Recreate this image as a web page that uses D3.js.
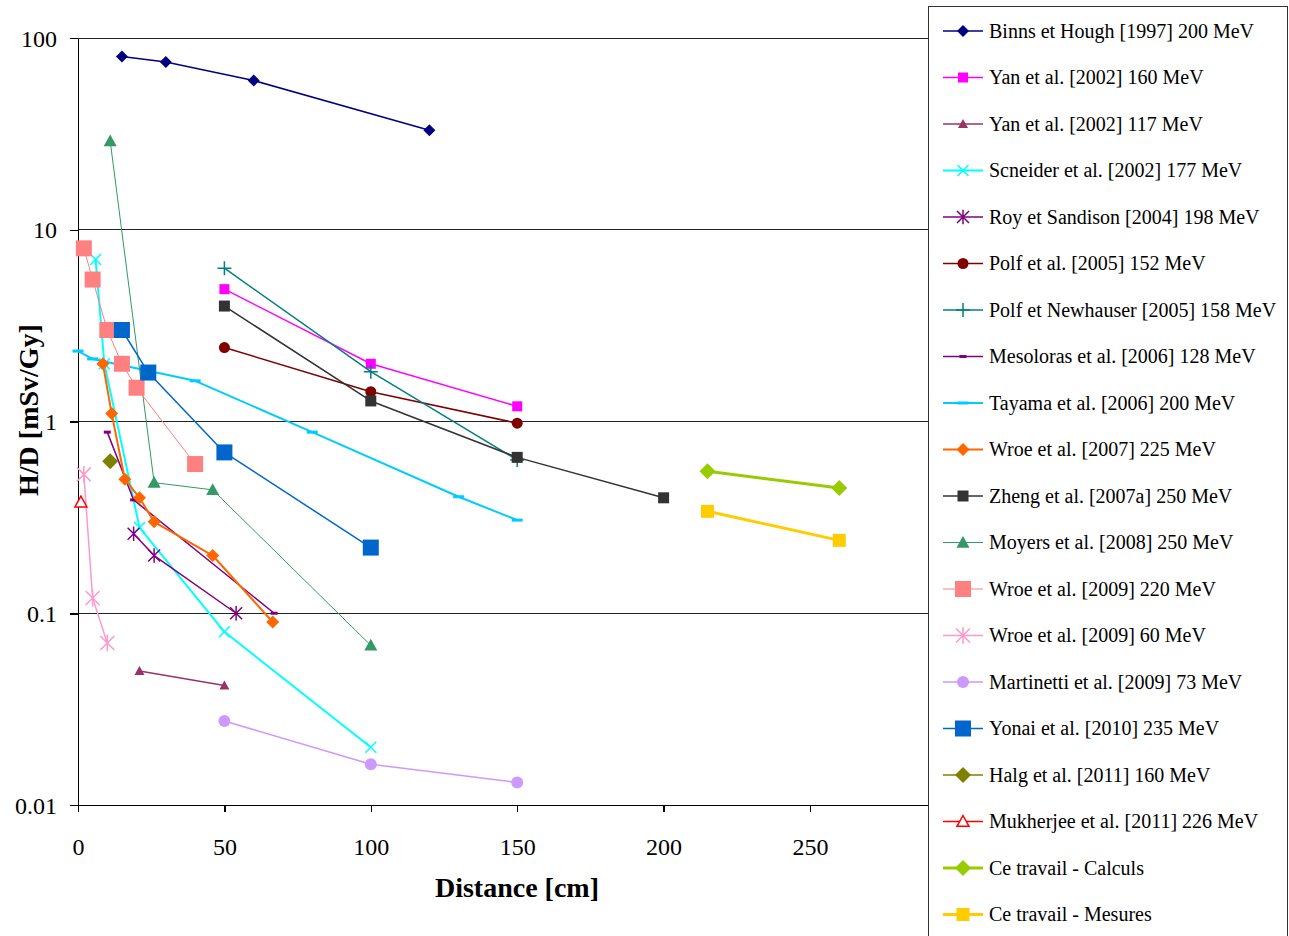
<!DOCTYPE html>
<html><head><meta charset="utf-8">
<script src="https://cdn.jsdelivr.net/npm/d3@7"></script>
<style>
body{margin:0;background:#fff}
svg{display:block}
text{font-family:"Liberation Serif","Times New Roman",serif;fill:#000}
</style>
</head><body>
<svg id="chart" width="1289" height="936"></svg>
<script>
// ---------- DATA ----------
const seriesNames = [
  "Binns et Hough [1997] 200 MeV",
  "Yan et al. [2002] 160 MeV",
  "Yan et al. [2002] 117 MeV",
  "Scneider et al. [2002] 177 MeV",
  "Roy et Sandison [2004] 198 MeV",
  "Polf et al. [2005] 152 MeV",
  "Polf et Newhauser [2005] 158 MeV",
  "Mesoloras et al. [2006] 128 MeV",
  "Tayama et al. [2006] 200 MeV",
  "Wroe et al. [2007] 225 MeV",
  "Zheng et al. [2007a] 250 MeV",
  "Moyers et al. [2008] 250 MeV",
  "Wroe et al. [2009] 220 MeV",
  "Wroe et al. [2009] 60 MeV",
  "Martinetti et al. [2009] 73 MeV",
  "Yonai et al. [2010] 235 MeV",
  "Halg et al. [2011] 160 MeV",
  "Mukherjee et al. [2011] 226 MeV",
  "Ce travail - Calculs",
  "Ce travail - Mesures"
];
// [distance cm, H/D mSv/Gy]
const binnsHough1997 = [[15,80],[30,75],[60,60],[120,33]];
const yan2002_160 = [[50,4.9],[100,2.0],[150,1.2]];
const yan2002_117 = [[21,0.05],[50,0.042]];
const scneider2002 = [[6,7.0],[9,2.0],[21,0.28],[50,0.08],[100,0.02]];
const roySandison2004 = [[19,0.26],[26,0.2],[54,0.1]];
const polf2005 = [[50,2.43],[100,1.43],[150,0.98]];
const polfNewhauser2005 = [[50,6.3],[100,1.82],[150,0.63]];
const mesoloras2006 = [[10,0.88],[19,0.39],[67,0.1]];
const tayama2006 = [[0,2.33],[5,2.12],[40,1.63],[80,0.88],[130,0.405],[150,0.306]];
const wroe2007 = [[8.5,2.0],[11.5,1.1],[16,0.5],[21,0.4],[26,0.3],[46,0.2],[66.5,0.09]];
const zheng2007a = [[50,4.0],[100,1.28],[150,0.65],[200,0.4]];
const moyers2008 = [[11,29],[26,0.48],[46,0.44],[100,0.068]];
const wroe2009_220 = [[2,8.0],[5,5.5],[10,3.0],[15,2.0],[20,1.5],[40,0.6]];
const wroe2009_60 = [[2,0.53],[5,0.12],[10,0.07]];
const martinetti2009 = [[50,0.0274],[100,0.0163],[150,0.0131]];
const yonai2010 = [[15,3.0],[24,1.8],[50,0.69],[100,0.22]];
const halg2011 = [[11,0.62]];
const mukherjee2011 = [[1,0.38]];
const ceTravailCalculs = [[215,0.55],[260,0.45]];
const ceTravailMesures = [[215,0.34],[260,0.24]];

const xTickValues = [0,50,100,150,200,250];
const yTickValues = [0.01,0.1,1,10,100];
const yTickLabels = ["0.01","0.1","1","10","100"];
const xAxisTitle = "Distance [cm]";
const yAxisTitle = "H/D [mSv/Gy]";

const seriesValues = [binnsHough1997, yan2002_160, yan2002_117, scneider2002, roySandison2004,
  polf2005, polfNewhauser2005, mesoloras2006, tayama2006, wroe2007, zheng2007a, moyers2008,
  wroe2009_220, wroe2009_60, martinetti2009, yonai2010, halg2011, mukherjee2011,
  ceTravailCalculs, ceTravailMesures];

// ---------- STYLES ----------
const styles = [
  {c:"#000080", w:1.5, m:"diamond", s:6},
  {c:"#FF00FF", w:1.5, m:"square", s:10},
  {c:"#993366", w:1.5, m:"triangle", s:10},
  {c:"#00FFFF", w:2,   m:"x", s:5.5},
  {c:"#800080", w:1.5, m:"asterisk", s:6},
  {c:"#800000", w:1.5, m:"circle", s:5.5},
  {c:"#008080", w:1.5, m:"plus", s:7},
  {c:"#800080", w:1.5, m:"dash", s:7},
  {c:"#00CCFF", w:2,   m:"dash", s:11},
  {c:"#FF6600", w:2,   m:"diamond", s:6.5},
  {c:"#333333", w:1.5, m:"square", s:11},
  {c:"#339966", w:1,   m:"triangle", s:13},
  {c:"#FF8080", w:1,   m:"square", s:16},
  {c:"#FF99CC", w:1.5, m:"asterisk", s:7},
  {c:"#CC99FF", w:1.5, m:"circle", s:6},
  {c:"#0066CC", w:1.5, m:"square", s:16},
  {c:"#808000", w:1.5, m:"diamond", s:8},
  {c:"#FF0000", w:1.5, m:"opentriangle", s:12},
  {c:"#99CC00", w:3,   m:"diamond", s:8},
  {c:"#FFCC00", w:3,   m:"square", s:13}
];

// ---------- LAYOUT ----------
const svg = d3.select("#chart");
const x = d3.scaleLinear().domain([0,300]).range([78, 78 + 300*2.928]);
const y = d3.scaleLog().domain([0.01,100]).range([805,38]);

// gridlines
svg.append("g").selectAll("line").data(yTickValues.slice(1)).join("line")
  .attr("x1", x(0)).attr("x2", x(300)).attr("y1", d=>y(d)).attr("y2", d=>y(d))
  .attr("stroke", "#222").attr("stroke-width", 1).attr("shape-rendering","crispEdges");

// axes
const yAxis = svg.append("g").attr("transform", `translate(${x(0)},0)`)
  .call(d3.axisLeft(y).tickValues(yTickValues).tickSize(8).tickSizeOuter(0)
    .tickFormat((d,i)=>yTickLabels[i]));
yAxis.selectAll("text").attr("x", -21).attr("dy","0.34em").attr("font-size", 24)
  .attr("font-family","Liberation Serif");
const xAxis = svg.append("g").attr("transform", `translate(0,${y(0.01)})`)
  .call(d3.axisBottom(x).tickValues(xTickValues).tickSize(7).tickSizeOuter(0));
xAxis.selectAll("text").attr("y", 33).attr("dy","0.71em").attr("font-size", 24)
  .attr("font-family","Liberation Serif");
svg.selectAll(".domain, .tick line").attr("stroke","#000").attr("stroke-width",1.5)
  .attr("shape-rendering","crispEdges");
svg.selectAll(".tick text").attr("fill","#000");

// titles
svg.append("text").attr("x", 517).attr("y", 887).attr("dy","0.35em")
  .attr("text-anchor","middle").attr("font-weight","bold").attr("font-size", 28).text(xAxisTitle);
svg.append("text").attr("transform","translate(28,410) rotate(-90)").attr("dy","0.35em")
  .attr("text-anchor","middle").attr("font-weight","bold").attr("font-size", 28).text(yAxisTitle);

// marker drawing
function marker(g, st, cx, cy) {
  const s = st.s, c = st.c;
  switch (st.m) {
    case "diamond":
      g.append("path").attr("d", `M${cx},${cy-s}L${cx+s},${cy}L${cx},${cy+s}L${cx-s},${cy}Z`).attr("fill", c); break;
    case "square":
      g.append("rect").attr("x", cx-s/2).attr("y", cy-s/2).attr("width", s).attr("height", s).attr("fill", c); break;
    case "triangle":
      g.append("path").attr("d", `M${cx},${cy-s*0.5}L${cx+s/2},${cy+s*0.4}L${cx-s/2},${cy+s*0.4}Z`).attr("fill", c); break;
    case "opentriangle":
      g.append("path").attr("d", `M${cx},${cy-s*0.5}L${cx+s/2},${cy+s*0.4}L${cx-s/2},${cy+s*0.4}Z`)
        .attr("fill", "#fff").attr("stroke", c).attr("stroke-width", 1.5); break;
    case "circle":
      g.append("circle").attr("cx", cx).attr("cy", cy).attr("r", s).attr("fill", c); break;
    case "x":
      g.append("path").attr("d", `M${cx-s},${cy-s}L${cx+s},${cy+s}M${cx-s},${cy+s}L${cx+s},${cy-s}`)
        .attr("stroke", c).attr("stroke-width", 1.5).attr("fill","none"); break;
    case "asterisk":
      g.append("path").attr("d", `M${cx-s},${cy-s}L${cx+s},${cy+s}M${cx-s},${cy+s}L${cx+s},${cy-s}M${cx},${cy-s*1.2}L${cx},${cy+s*1.2}`)
        .attr("stroke", c).attr("stroke-width", 1.5).attr("fill","none"); break;
    case "plus":
      g.append("path").attr("d", `M${cx-s},${cy}L${cx+s},${cy}M${cx},${cy-s}L${cx},${cy+s}`)
        .attr("stroke", c).attr("stroke-width", 1.5).attr("fill","none"); break;
    case "dash":
      g.append("rect").attr("x", cx-s/2).attr("y", cy-1.5).attr("width", s).attr("height", 3).attr("fill", c); break;
  }
}

// series
const line = d3.line().x(d=>x(d[0])).y(d=>y(d[1]));
const plot = svg.append("g");
seriesValues.forEach((vals, i) => {
  const st = styles[i];
  const g = plot.append("g");
  if (vals.length > 1)
    g.append("path").datum(vals).attr("d", line).attr("fill","none")
      .attr("stroke", st.c).attr("stroke-width", st.w).attr("stroke-linejoin","round");
  vals.forEach(d => marker(g, st, x(d[0]), y(d[1])));
});

// legend
const lg = svg.append("g");
lg.append("rect").attr("x", 928.5).attr("y", 6.5).attr("width", 359).attr("height", 960)
  .attr("fill","#fff").attr("stroke","#333").attr("stroke-width",1);
seriesNames.forEach((name, i) => {
  const st = styles[i];
  const ly = 31 + i*46.5;
  const g = lg.append("g");
  g.append("line").attr("x1", 943).attr("x2", 983).attr("y1", ly).attr("y2", ly)
    .attr("stroke", st.c).attr("stroke-width", st.w);
  marker(g, st, 963, ly);
  g.append("text").attr("x", 989).attr("y", ly).attr("dy","0.33em").attr("font-size", 20).text(name);
});
</script>
</body></html>
